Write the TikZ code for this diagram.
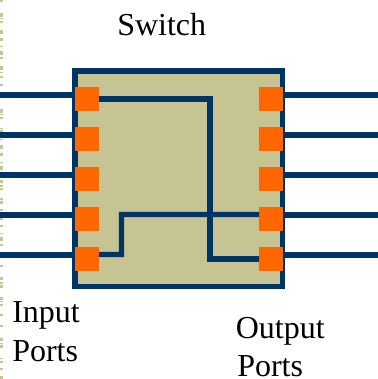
\documentclass[tikz,border=0pt]{standalone}
\usepackage{fontspec}
\setmainfont{Liberation Serif}
\usetikzlibrary{calc,positioning}
\definecolor{wireblue}{HTML}{003366}
\definecolor{portorange}{HTML}{FF6600}
\definecolor{boxkhaki}{HTML}{C6C492}
\tikzset{
  portbox/.style={rectangle, fill=portorange, minimum height=18pt, minimum width=18pt, inner sep=0pt, outer sep=0pt},
  wire/.style={draw=wireblue, line width=4.6pt},
  inwire/.style={draw=wireblue, line width=4pt, line join=miter},
  caption/.style={anchor=base west, inner sep=0pt, font=\fontsize{24}{24}\selectfont},
}

\begin{document}
\begin{tikzpicture}[x=0.75pt, y=-0.75pt]
    \useasboundingbox (0,0) rectangle (378,379);
    % edge marks down the left side
    \foreach \top/\len in {0/2,13/4,18/1,21/2,30/4,38/3,46/1,51/4,57/2,66/4,72/1,76/2,84/2,
        109/4,114/1,117/2,128/1,130/2,139/1,145/4,153/3,162/1,166/4,180/3,185/2,188/2,
        198/2,201/3,209/2,218/2,225/2,233/1,237/4,244/2,265/2,277/3,282/2,
        285/3,297/3,301/1,304/2,314/2,325/2,338/3,343/1,345/3,358/1,361/2,368/2,376/3}
        \fill[boxkhaki] (0,\top) rectangle (3,\top+\len);

    \node(switch) [rectangle, draw=wireblue, fill=boxkhaki, line width=4pt, minimum height=161.6pt, minimum width=155.6pt, inner sep=0pt] at (178.75,178.75) {};

    \node(in1) [portbox] at (87,99) {};
    \node(in2) [portbox, below = 12pt of in1] {};
    \node(in3) [portbox, below = 12pt of in2] {};
    \node(in4) [portbox, below = 12pt of in3] {};
    \node(in5) [portbox, below = 12pt of in4] {};
    \node(out1) [portbox] at (271,99) {};
    \node(out2) [portbox, below = 12pt of out1] {};
    \node(out3) [portbox, below = 12pt of out2] {};
    \node(out4) [portbox, below = 12pt of out3] {};
    \node(out5) [portbox, below = 12pt of out4] {};

    \coordinate (left1) at (0,95);
    \coordinate (left2) at (0,135);
    \coordinate (left3) at (0,175);
    \coordinate (left4) at (0,215);
    \coordinate (left5) at (0,255);
    \coordinate (right1) at (378,95);
    \coordinate (right2) at (378,135);
    \coordinate (right3) at (378,175);
    \coordinate (right4) at (378,215);
    \coordinate (right5) at (378,255);

    \draw[wire] (left1) -- ([yshift=3pt]in1.west);
    \draw[wire] (left2) -- ([yshift=3pt]in2.west);
    \draw[wire] (left3) -- ([yshift=3pt]in3.west);
    \draw[wire] (left4) -- ([yshift=3pt]in4.west);
    \draw[wire] (left5) -- ([yshift=3pt]in5.west);
    \draw[wire] ([yshift=3pt]out1.east) -- (right1);
    \draw[wire] ([yshift=3pt]out2.east) -- (right2);
    \draw[wire] ([yshift=3pt]out3.east) -- (right3);
    \draw[wire] ([yshift=3pt]out4.east) -- (right4);
    \draw[wire] ([yshift=3pt]out5.east) -- (right5);

    \coordinate (turn1) at (210,99);
    \coordinate (turn2) at (210,259);
    \coordinate (turn3) at (121.5,254.5);
    \coordinate (turn4) at (121.5,214.5);
    \draw[inwire] (in1.east) -- (turn1) -- (turn2) -- (out5.west);
    \draw[inwire] ([yshift=3.4pt]in5.east) -- (turn3) -- (turn4) -- ([yshift=3.4pt]out4.west);

    \node(cap) [caption] at (117,35.5) {Switch};
    \node(inputa) [caption] at (12,322) {Input};
    \node(inputb) [caption] at (12,361) {Ports};
    \node(outputa) [caption] at (235.5,338) {Output};
    \node(outputb) [caption] at (237,376) {Ports};
\end{tikzpicture}
\end{document}
